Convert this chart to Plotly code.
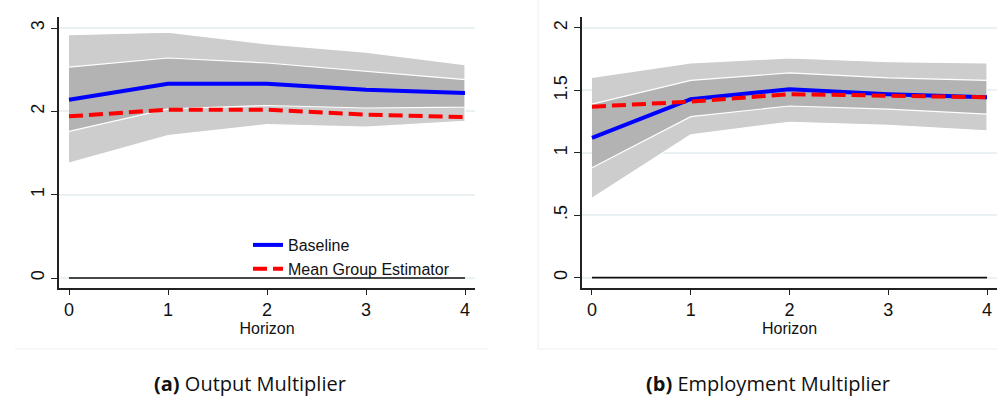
import plotly.graph_objects as go

# ---------------- data ----------------
horizon = [0, 1, 2, 3, 4]
zero_ref = [0, 0, 0, 0, 0]

# (a) Output multiplier
out_baseline = [2.14, 2.33, 2.33, 2.26, 2.22]
out_meangroup = [1.94, 2.02, 2.02, 1.96, 1.93]
out_inner_hi = [2.53, 2.64, 2.58, 2.48, 2.38]
out_inner_lo = [1.76, 2.03, 2.07, 2.04, 2.05]
out_outer_hi = [2.92, 2.95, 2.81, 2.71, 2.56]
out_outer_lo = [1.38, 1.71, 1.84, 1.81, 1.88]

# (b) Employment multiplier
emp_baseline = [1.12, 1.43, 1.51, 1.47, 1.445]
emp_meangroup = [1.37, 1.41, 1.47, 1.46, 1.445]
emp_inner_hi = [1.39, 1.58, 1.64, 1.60, 1.58]
emp_inner_lo = [0.88, 1.29, 1.375, 1.35, 1.31]
emp_outer_hi = [1.605, 1.72, 1.76, 1.73, 1.72]
emp_outer_lo = [0.635, 1.145, 1.245, 1.22, 1.175]

out_ytickvals = [0, 1, 2, 3]
out_yticktext = ["0", "1", "2", "3"]
emp_ytickvals = [0, 0.5, 1, 1.5, 2]
emp_yticktext = ["0", ".5", "1", "1.5", "2"]

series_names = ["Baseline", "Mean Group Estimator"]
captions = ["<b>(a)</b> Output Multiplier", "<b>(b)</b> Employment Multiplier"]

# ---------------- style ----------------
W, H = 997, 396
OUTER = "#cdcdcd"
INNER = "#b3b3b3"
BLUE = "#0000ff"
RED = "#ff0000"
AXC = "#222222"
GRID = "#e9f1f2"
FONT = "Liberation Sans, Arial, sans-serif"

fig = go.Figure()


def band(xa, ya, hi, lo, color):
    fig.add_trace(go.Scatter(
        x=horizon + horizon[::-1], y=hi + lo[::-1],
        fill="toself", fillcolor=color, mode="lines",
        line=dict(color="white", width=1.2),
        xaxis=xa, yaxis=ya, showlegend=False, hoverinfo="skip"))


def panel(xa, ya, outer_hi, outer_lo, inner_hi, inner_lo, base, mg, legend):
    band(xa, ya, outer_hi, outer_lo, OUTER)
    band(xa, ya, inner_hi, inner_lo, INNER)
    fig.add_trace(go.Scatter(x=horizon, y=zero_ref, mode="lines",
                             line=dict(color="#111111", width=1.6),
                             xaxis=xa, yaxis=ya, showlegend=False, hoverinfo="skip"))
    fig.add_trace(go.Scatter(x=horizon, y=base, mode="lines", name=series_names[0],
                             line=dict(color=BLUE, width=4),
                             xaxis=xa, yaxis=ya, showlegend=legend))
    fig.add_trace(go.Scatter(x=horizon, y=mg, mode="lines", name=series_names[1],
                             line=dict(color=RED, width=4, dash="14px,6px"),
                             xaxis=xa, yaxis=ya, showlegend=legend))


panel("x", "y", out_outer_hi, out_outer_lo, out_inner_hi, out_inner_lo,
      out_baseline, out_meangroup, True)
panel("x2", "y2", emp_outer_hi, emp_outer_lo, emp_inner_hi, emp_inner_lo,
      emp_baseline, emp_meangroup, False)

ydom = [1 - 288 / H, 1 - 17 / H]

common_x = dict(
    showline=True, linecolor=AXC, linewidth=1.5, ticks="outside", ticklen=5,
    tickcolor=AXC, tickwidth=1.2, tickvals=horizon, showgrid=False, zeroline=False,
    tickfont=dict(family=FONT, size=18, color="#111"),
    title=dict(text="Horizon", font=dict(family=FONT, size=16, color="#111"), standoff=0),
    range=[-0.101, 4.101], mirror=False,
)
common_y = dict(
    showline=True, linecolor=AXC, linewidth=1.5, ticks="outside", ticklen=6,
    tickcolor=AXC, tickwidth=1.2, showgrid=True, gridcolor=GRID, gridwidth=1.5,
    zeroline=False, tickangle=-90,
    tickfont=dict(family=FONT, size=18, color="#111"),
)

fig.update_layout(
    width=W, height=H,
    margin=dict(l=0, r=0, t=0, b=0),
    paper_bgcolor="white", plot_bgcolor="white",
    xaxis=dict(domain=[59 / W, 475 / W], anchor="y", **common_x),
    yaxis=dict(domain=ydom, anchor="x", range=[-0.12, 3.132],
               tickvals=out_ytickvals, ticktext=out_yticktext, **common_y),
    xaxis2=dict(domain=[582 / W, 1.0], anchor="y2", **common_x),
    yaxis2=dict(domain=ydom, anchor="x2", range=[-0.083, 2.088],
                tickvals=emp_ytickvals, ticktext=emp_yticktext, **common_y),
    legend=dict(x=248 / W, y=1 - 228 / H, xanchor="left", yanchor="top",
                bgcolor="rgba(0,0,0,0)", font=dict(family=FONT, size=16, color="#111"),
                tracegroupgap=0, itemwidth=30),
    showlegend=True,
    shapes=[
        dict(type="line", xref="paper", yref="paper", x0=15 / W, x1=488 / W,
             y0=1 - 349 / H, y1=1 - 349 / H, line=dict(color="#efefef", width=1)),
        dict(type="line", xref="paper", yref="paper", x0=538 / W, x1=1,
             y0=1 - 349 / H, y1=1 - 349 / H, line=dict(color="#efefef", width=1)),
        dict(type="line", xref="paper", yref="paper", x0=538 / W, x1=538 / W,
             y0=1 - 349 / H, y1=1, line=dict(color="#efefef", width=1)),
    ],
    annotations=[
        dict(text=captions[0], x=250 / W, y=1 - 383 / H, xref="paper", yref="paper",
             showarrow=False, xanchor="center", yanchor="middle",
             font=dict(family="Open Sans, sans-serif", size=20, color="#111")),
        dict(text=captions[1], x=768 / W, y=1 - 383 / H, xref="paper", yref="paper",
             showarrow=False, xanchor="center", yanchor="middle",
             font=dict(family="Open Sans, sans-serif", size=20, color="#111")),
    ],
)

fig.write_html("out.html")
